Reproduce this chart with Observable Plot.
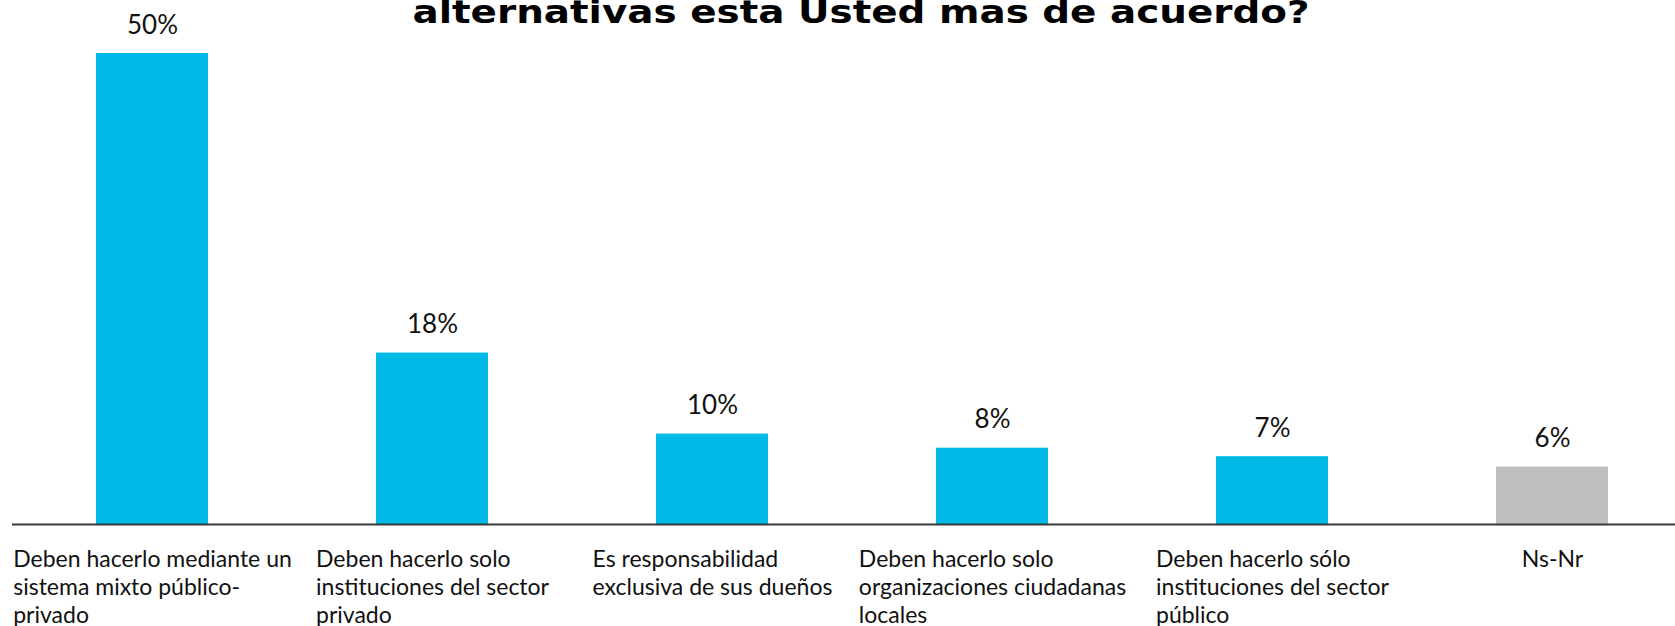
<!DOCTYPE html>
<html><head><meta charset="utf-8">
<script src="https://cdn.jsdelivr.net/npm/d3@7"></script>
<script src="https://cdn.jsdelivr.net/npm/@observablehq/plot@0.6"></script>
<style>
html,body{margin:0;padding:0;background:#fff;overflow:hidden;width:1675px;height:626px}
#wrap{position:relative;width:1675px;height:626px}
#chart{position:absolute;left:0;top:0}
#title{position:absolute;left:861px;top:-8px;white-space:nowrap;font-family:"DejaVu Sans",sans-serif;font-weight:bold;font-size:32px;line-height:40px;color:#000;transform-origin:left top}
</style></head><body>
<div id="wrap"><div id="chart"></div><div id="title">alternativas esta Usted mas de acuerdo?</div></div>
<script>
const categories = [
  "Deben hacerlo mediante un\nsistema mixto público-\nprivado",
  "Deben hacerlo solo\ninstituciones del sector\nprivado",
  "Es responsabilidad\nexclusiva de sus dueños",
  "Deben hacerlo solo\norganizaciones ciudadanas\nlocales",
  "Deben hacerlo sólo\ninstituciones del sector\npúblico",
  "Ns-Nr"
];
const values = [50, 18.2, 9.6, 8.1, 7.2, 6.1];
const valueLabels = ["50%", "18%", "10%", "8%", "7%", "6%"];
const groups = ["resp", "resp", "resp", "resp", "resp", "nsnr"];

const data = categories.map((c, i) => ({cat: c, value: values[i], label: valueLabels[i], group: groups[i]}));

const FONT = "Lato, sans-serif";
const FS = 23;
const VFS = 26;
const canvas = document.createElement("canvas");
const ctx = canvas.getContext("2d");
ctx.font = `${FS}px Lato`;
function blockWidth(s) { return d3.max(s.split("\n"), l => ctx.measureText(l).width); }

const catMarks = data.map(d => Plot.text([d], {
  x: "cat", y: () => 0, text: "cat",
  textAnchor: "start", lineAnchor: "top",
  dx: -blockWidth(d.cat) / 2, dy: 39 - 0.71 * FS,
  lineHeight: 28 / FS, fontSize: FS, fill: "#111"
}));

const chart = Plot.plot({
  width: 1675, height: 626,
  marginTop: 53, marginBottom: 102, marginLeft: 12, marginRight: 0,
  style: {fontFamily: FONT, background: "#fff", overflow: "visible"},
  x: {domain: categories, range: [12, 1692], paddingInner: 0.6, paddingOuter: 0.3, axis: null},
  y: {domain: [0, 50], axis: null},
  color: {domain: ["resp", "nsnr"], range: ["#00B9E7", "#BFBFBF"]},
  marks: [
    Plot.barY(data, {x: "cat", y: "value", fill: "group"}),
    Plot.ruleY([0], {stroke: "#3a3a3a", strokeWidth: 2}),
    Plot.text(data, {x: "cat", y: "value", text: "label", lineAnchor: "bottom", dy: -20, fontSize: VFS, fill: "#111"}),
    ...catMarks
  ]
});
document.getElementById("chart").appendChild(chart);

const t = document.getElementById("title");
const w = t.getBoundingClientRect().width;
const target = 897;
t.style.transform = `translateX(${-target / 2}px) scaleX(${target / w})`;
</script>
</body></html>
